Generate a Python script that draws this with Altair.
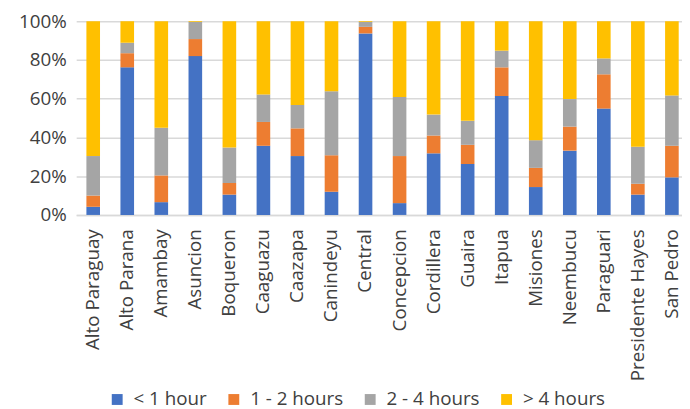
import altair as alt
import pandas as pd

categories = ["Alto Paraguay", "Alto Parana", "Amambay", "Asuncion", "Boqueron",
              "Caaguazu", "Caazapa", "Canindeyu", "Central", "Concepcion",
              "Cordillera", "Guaira", "Itapua", "Misiones", "Neembucu",
              "Paraguari", "Presidente Hayes", "San Pedro"]
series = ["< 1 hour", "1 - 2 hours", "2 - 4 hours", "> 4 hours"]
lt_1h = [4.2, 76.2, 6.6, 82.0, 10.5, 35.7, 30.4, 12.0, 93.7, 6.1, 31.8, 26.3, 61.4, 14.4, 33.2, 54.9, 10.5, 19.4]
h_1_2 = [5.8, 7.3, 13.8, 8.8, 6.0, 12.3, 14.3, 18.8, 3.4, 24.3, 9.2, 9.9, 14.8, 9.9, 12.4, 17.7, 5.6, 16.3]
h_2_4 = [20.4, 5.4, 24.6, 8.8, 18.3, 14.2, 12.1, 33.0, 2.5, 30.5, 10.8, 12.4, 8.6, 14.3, 14.2, 8.2, 19.1, 26.0]
gt_4h = [69.6, 11.1, 55.0, 0.4, 65.2, 37.8, 43.2, 36.2, 0.4, 39.1, 48.2, 51.4, 15.2, 61.4, 40.2, 19.2, 64.8, 38.3]
colors = ["#4472C4", "#ED7D31", "#A5A5A5", "#FFC000"]

rows = []
for si, (name, vals) in enumerate(zip(series, [lt_1h, h_1_2, h_2_4, gt_4h])):
    for c, v in zip(categories, vals):
        rows.append({"dept": c, "series": name, "idx": si, "value": v})
df = pd.DataFrame(rows)

FONT = "Open Sans"
TXT = "#404040"
FS = 19

chart = alt.Chart(df).mark_bar().encode(
    x=alt.X("dept:N", sort=categories, title=None,
            scale=alt.Scale(range=[0, 620], paddingInner=0.6, paddingOuter=0.3),
            axis=alt.Axis(labelAngle=-90, ticks=False, tickSize=0, labelPadding=14,
                          domainColor="#d9d9d9", domainWidth=1.5, grid=False,
                          labelFontSize=FS, labelColor=TXT, labelFont=FONT)),
    y=alt.Y("value:Q", stack="zero", title=None,
            scale=alt.Scale(domain=[0, 100], nice=False),
            axis=alt.Axis(values=[0, 20, 40, 60, 80, 100], labelExpr="datum.value + '%'",
                          ticks=False, domain=False, labelPadding=10,
                          gridColor="#d9d9d9", gridWidth=1.5,
                          labelFontSize=FS, labelColor=TXT, labelFont=FONT)),
    color=alt.Color("series:N", scale=alt.Scale(domain=series, range=colors),
                    legend=alt.Legend(title=None, orient="none", direction="horizontal",
                                      legendX=32, legendY=373,
                                      symbolType="square", symbolSize=121,
                                      symbolStrokeWidth=0, labelOffset=7,
                                      columnPadding=17, labelFontSize=FS,
                                      labelColor=TXT, labelFont=FONT)),
    order=alt.Order("idx:Q", sort="ascending"),
).properties(
    width=613, height=196,
    autosize=alt.AutoSizeParams(type="none"),
    padding={"left": 69, "top": 11, "right": 0, "bottom": 196},
).configure_view(stroke=None)

chart.save("out.html", embed_options={"renderer": "svg", "actions": False})
